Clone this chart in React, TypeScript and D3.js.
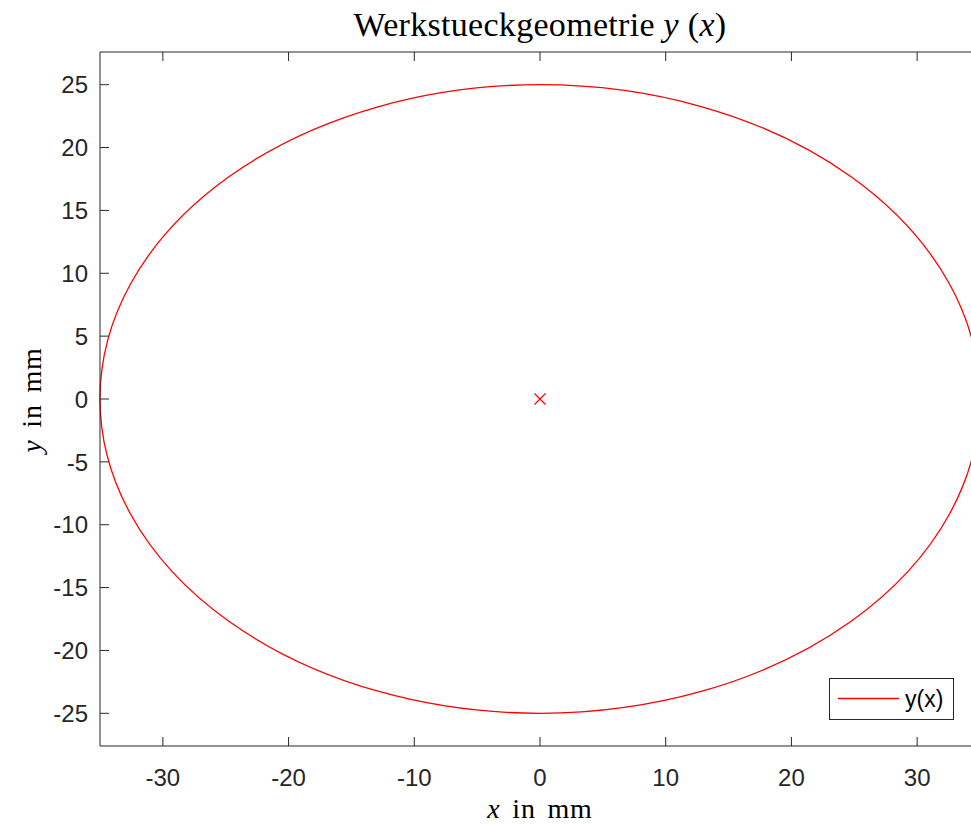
import * as d3 from "d3";
import { useEffect, useRef } from "react";

// workpiece geometry: ellipse centre and semi-axes (mm)
const centre = [0, 0];
const semiAxes = [35, 25];
const xTicks = [-30, -20, -10, 0, 10, 20, 30];
const yTicks = [-25, -20, -15, -10, -5, 0, 5, 10, 15, 20, 25];
const xDomain = [-35, 35];
const yDomain = [-27.6, 27.6];
const legendLabels = ["y(x)"];

const W = 971;
const H = 827;
const m = { left: 100, right: 980, top: 52, bottom: 746 };
const axisColor = "#262626";
const sans = "'Liberation Sans', Arial, sans-serif";
const serif = "'Liberation Serif', 'DejaVu Serif', serif";

export default function App() {
  const ref = useRef<SVGSVGElement>(null);

  useEffect(() => {
    const svg = d3.select(ref.current);
    svg.selectAll("*").remove();

    const x = d3.scaleLinear().domain(xDomain).range([m.left, m.right]);
    const y = d3.scaleLinear().domain(yDomain).range([m.bottom, m.top]);

    svg.append("rect").attr("width", W).attr("height", H).attr("fill", "white");

    // curve
    svg
      .append("ellipse")
      .attr("cx", x(centre[0]))
      .attr("cy", y(centre[1]))
      .attr("rx", x(semiAxes[0]) - x(0))
      .attr("ry", y(0) - y(semiAxes[1]))
      .attr("fill", "none")
      .attr("stroke", "#ff0000")
      .attr("stroke-width", 1.3);

    // centre marker
    const cx = x(centre[0]);
    const cy = y(centre[1]);
    svg
      .append("path")
      .attr("d", `M${cx - 5.5},${cy - 5.5}L${cx + 5.5},${cy + 5.5}M${cx - 5.5},${cy + 5.5}L${cx + 5.5},${cy - 5.5}`)
      .attr("stroke", "#ff0000")
      .attr("stroke-width", 1.2);

    // axes box
    const g = svg.append("g").attr("stroke", axisColor).attr("stroke-width", 1).attr("fill", "none");
    g.append("path").attr("d", `M${m.left},${m.top}V${m.bottom}H${m.right}`);
    g.append("path").attr("d", `M${m.left},${m.top}H${m.right}V${m.bottom}`);

    const tl = 9;
    xTicks.forEach((t) => {
      g.append("line").attr("x1", x(t)).attr("x2", x(t)).attr("y1", m.bottom).attr("y2", m.bottom - tl);
      g.append("line").attr("x1", x(t)).attr("x2", x(t)).attr("y1", m.top).attr("y2", m.top + tl);
    });
    yTicks.forEach((t) => {
      g.append("line").attr("x1", m.left).attr("x2", m.left + tl).attr("y1", y(t)).attr("y2", y(t));
      g.append("line").attr("x1", m.right).attr("x2", m.right - tl).attr("y1", y(t)).attr("y2", y(t));
    });

    svg
      .append("g")
      .selectAll("text")
      .data(xTicks)
      .join("text")
      .attr("x", (d) => x(d))
      .attr("y", 786)
      .attr("text-anchor", "middle")
      .attr("font-family", sans)
      .attr("font-size", 24)
      .attr("fill", axisColor)
      .text((d) => d);

    svg
      .append("g")
      .selectAll("text")
      .data(yTicks)
      .join("text")
      .attr("x", 88)
      .attr("y", (d) => y(d))
      .attr("dy", "0.36em")
      .attr("text-anchor", "end")
      .attr("font-family", sans)
      .attr("font-size", 24)
      .attr("fill", axisColor)
      .text((d) => d);

    // title
    const title = svg
      .append("text")
      .attr("x", 540)
      .attr("y", 36)
      .attr("text-anchor", "middle")
      .attr("font-family", serif)
      .attr("font-size", 34)
      .attr("letter-spacing", 0.3)
      .attr("fill", "black");
    title.append("tspan").text("Werkstueckgeometrie ");
    title.append("tspan").attr("font-style", "italic").text("y");
    title.append("tspan").text(" (");
    title.append("tspan").attr("font-style", "italic").text("x");
    title.append("tspan").text(")");

    // x label
    const xl = svg
      .append("text")
      .attr("x", 540)
      .attr("y", 818)
      .attr("text-anchor", "middle")
      .attr("font-family", serif)
      .attr("font-size", 28)
      .attr("word-spacing", 4)
      .attr("letter-spacing", 0.8)
      .attr("fill", "black");
    xl.append("tspan").attr("font-style", "italic").text("x");
    xl.append("tspan").text(" in mm");

    // y label
    const yl = svg
      .append("text")
      .attr("transform", `translate(41,400) rotate(-90)`)
      .attr("text-anchor", "middle")
      .attr("font-family", serif)
      .attr("font-size", 28)
      .attr("word-spacing", 4)
      .attr("letter-spacing", 0.8)
      .attr("fill", "black");
    yl.append("tspan").attr("font-style", "italic").text("y");
    yl.append("tspan").text(" in mm");

    // legend
    const lg = svg.append("g");
    lg.append("rect")
      .attr("x", 829.5)
      .attr("y", 678.5)
      .attr("width", 124)
      .attr("height", 41)
      .attr("fill", "white")
      .attr("stroke", axisColor)
      .attr("stroke-width", 1);
    lg.append("line")
      .attr("x1", 838)
      .attr("x2", 899)
      .attr("y1", 698.5)
      .attr("y2", 698.5)
      .attr("stroke", "#ff0000")
      .attr("stroke-width", 1.3);
    lg.selectAll("text")
      .data(legendLabels)
      .join("text")
      .attr("x", 905)
      .attr("y", 699)
      .attr("dy", "0.36em")
      .attr("font-family", sans)
      .attr("font-size", 23)
      .attr("fill", "black")
      .text((d) => d);
  }, []);

  return <svg ref={ref} width={W} height={H} style={{ display: "block", position: "absolute", left: 0, top: 0 }} />;
}
